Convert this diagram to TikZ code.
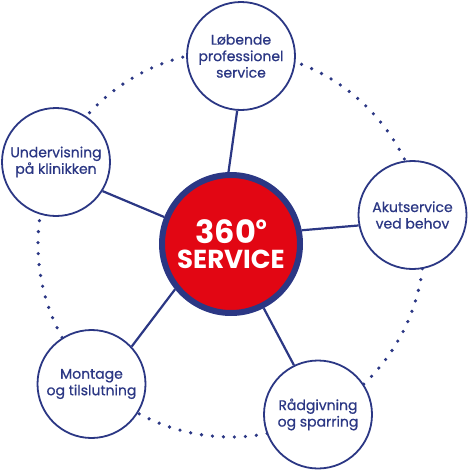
\documentclass[tikz,border=0pt]{standalone}
\usepackage{fontspec}
\setmainfont{Poppins}
\usetikzlibrary{backgrounds}
\definecolor{navy}{HTML}{2B3784}
\definecolor{svcred}{HTML}{E20613}

\begin{document}
\begin{tikzpicture}[
  x=1pt, y=-1pt,
  topic/.style={circle, draw=navy, line width=1.8pt, fill=white, minimum size=108pt, inner sep=0pt, align=center, text=navy,
                font=\fontsize{14}{16.5}\selectfont\addfontfeature{FakeBold=0.6}},
  hub/.style={circle, draw=navy, line width=6pt, fill=svcred, minimum size=138pt, inner sep=0pt, align=center, text=white,
              font=\bfseries\fontsize{26}{25}\selectfont},
  spoke/.style={navy, line width=2.2pt},
  dots/.style={navy, line width=3.6pt, line cap=round, dash pattern=on 0pt off 11pt},
]
\useasboundingbox (0,0) rectangle (469,471);

% ---- centre -------------------------------------------------------------
\node[hub] (hub) at (231,244) {{\fontsize{32}{32}\selectfont 360\raisebox{0.75ex}{\fontsize{17}{17}\selectfont o}}\\SERVICE};

% ---- services round the centre ------------------------------------------
\node[topic] (lobende) at (241,56)    {Løbende\\professionel\\service};
\node[topic] (akut)    at (412.5,215) {Akutservice\\ved behov};
\node[topic] (raad)    at (318,414.5) {Rådgivning\\og sparring};
\node[topic] (montage) at (91.5,384)  {Montage\\og tilslutning};
\node[topic] (underv)  at (56,162)    {Undervisning\\på klinikken};

% ---- ring and spokes ------------------------------------------------------
\begin{scope}[on background layer]
  \draw[dots] (hub.center) circle[radius=193pt];
  \draw[spoke] (hub.92)  -- (lobende.266);
  \draw[spoke] (hub.11)  -- (akut.191);
  \draw[spoke] (hub.297) -- (raad.116);
  \draw[spoke] (hub.219) -- (montage.43);
  \draw[spoke] (hub.158) -- (underv.328);
\end{scope}
\end{tikzpicture}
\end{document}
